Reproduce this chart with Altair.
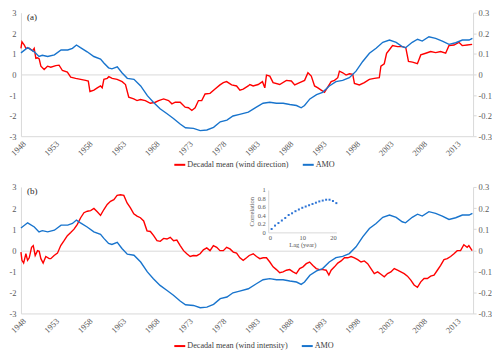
import altair as alt
import pandas as pd

RED = "#ff0000"
BLUE = "#1874cd"
FONT = "'Liberation Serif', 'Times New Roman', 'DejaVu Serif', serif"
GRID = "#d9d9d9"
LABEL = "#595959"

# AMO index (right axis units)
amo_years = [1948.0, 1949.0, 1950.0, 1950.7, 1951.2, 1952.0, 1953.0, 1954.0, 1955.0, 1955.7,
             1956.3, 1956.9, 1957.9, 1958.9, 1959.9, 1960.4, 1961.1, 1961.6, 1962.4, 1963.1,
             1963.9, 1964.9, 1965.9, 1966.9, 1967.8, 1968.8, 1969.8, 1970.8, 1971.8, 1972.6,
             1973.8, 1974.8, 1975.8, 1976.8, 1977.8, 1978.8, 1979.7, 1980.7, 1982.0, 1983.2,
             1984.2, 1985.2, 1986.2, 1987.2, 1988.2, 1989.2, 1989.9, 1990.4, 1991.2, 1992.2,
             1993.1, 1994.1, 1995.1, 1996.1, 1997.1, 1998.1, 1999.1, 2000.1, 2001.1, 2002.1,
             2003.1, 2004.1, 2005.0, 2005.5, 2006.5, 2007.3, 2008.0, 2009.0, 2010.0, 2011.0,
             2012.0, 2013.0, 2014.0, 2015.0, 2015.5]
amo_values = [0.105, 0.130, 0.110, 0.087, 0.093, 0.087, 0.095, 0.119, 0.119, 0.127,
              0.143, 0.130, 0.110, 0.087, 0.075, 0.056, 0.032, 0.027, 0.037, 0.008,
              -0.019, -0.024, -0.056, -0.103, -0.135, -0.167, -0.190, -0.214, -0.241, -0.259,
              -0.262, -0.273, -0.270, -0.257, -0.230, -0.222, -0.202, -0.194, -0.183, -0.159,
              -0.140, -0.135, -0.140, -0.140, -0.146, -0.151, -0.162, -0.151, -0.119, -0.098,
              -0.087, -0.056, -0.035, -0.029, -0.016, 0.016, 0.063, 0.103, 0.127, 0.156,
              0.167, 0.156, 0.135, 0.130, 0.156, 0.171, 0.162, 0.183, 0.175, 0.162,
              0.146, 0.154, 0.167, 0.167, 0.175]

# Decadal mean (wind direction), panel (a)
dir_years = [1948.0, 1948.15, 1948.5, 1948.74, 1949.24, 1949.74, 1949.98, 1950.23, 1950.48, 1950.73,
             1950.98, 1951.47, 1951.97, 1952.46, 1953.21, 1953.7, 1954.2, 1954.94, 1955.44, 1956.18,
             1956.93, 1957.67, 1958.07, 1958.32, 1958.91, 1959.41, 1959.9, 1960.15, 1960.4, 1960.9,
             1961.14, 1961.64, 1962.38, 1963.13, 1963.63, 1964.12, 1964.87, 1965.36, 1965.86, 1966.6,
             1967.35, 1968.09, 1968.59, 1969.33, 1970.07, 1970.57, 1971.07, 1971.81, 1972.55, 1973.05,
             1973.55, 1974.04, 1974.54, 1975.03, 1975.53, 1976.27, 1977.02, 1977.76, 1978.26, 1978.75,
             1979.5, 1980.24, 1980.74, 1981.23, 1981.98, 1982.23, 1982.72, 1983.47, 1984.11, 1984.46,
             1984.71, 1985.21, 1985.7, 1986.69, 1987.69, 1988.43, 1988.93, 1989.67, 1990.41, 1990.91,
             1991.41, 1991.9, 1992.4, 1992.89, 1993.39, 1993.89, 1994.38, 1994.88, 1995.37, 1995.62,
             1996.12, 1996.61, 1997.11, 1997.61, 1997.86, 1998.6, 1999.34, 2000.09, 2000.83, 2001.58,
             2001.82, 2002.32, 2002.67, 2003.06, 2003.56, 2004.3, 2005.05, 2005.54, 2005.94, 2006.54,
             2007.28, 2007.78, 2008.52, 2009.26, 2010.01, 2010.75, 2011.5, 2011.99, 2012.74, 2013.48,
             2013.98, 2014.72, 2015.46]
dir_values = [1.27, 1.59, 1.43, 1.27, 1.27, 1.15, 1.27, 0.78, 0.81, 0.75,
              0.40, 0.24, 0.40, 0.35, 0.43, 0.45, 0.19, 0.11, -0.13, -0.19,
              -0.24, -0.29, -0.32, -0.83, -0.76, -0.65, -0.56, -0.65, -0.24, -0.19,
              -0.11, -0.19, -0.24, -0.35, -0.49, -1.11, -1.19, -1.27, -1.22, -1.27,
              -1.40, -1.35, -1.27, -1.19, -1.27, -1.43, -1.35, -1.35, -1.59, -1.62,
              -1.75, -1.62, -1.27, -1.27, -0.95, -0.92, -0.71, -0.51, -0.40, -0.35,
              -0.51, -0.56, -0.76, -0.71, -0.56, -0.49, -0.56, -0.49, -0.35, -0.65,
              -0.03, -0.08, -0.40, -0.49, -0.29, -0.32, -0.51, -0.40, -0.29, 0.08,
              -0.08, -0.56, -0.65, -0.76, -0.87, -0.60, -0.35, -0.29, -0.16, 0.16,
              0.08, -0.03, 0.03, 0.00, -0.44, -0.51, -0.40, -0.24, -0.19, -0.16,
              0.40, 0.52, 1.03, 1.19, 1.40, 1.35, 1.35, 1.30, 0.63, 0.60,
              0.52, 0.95, 1.03, 1.11, 1.06, 1.11, 1.03, 1.40, 1.43, 1.56,
              1.40, 1.43, 1.46]

# Decadal mean (wind intensity), panel (b)
int_years = [1948.0, 1948.15, 1948.4, 1948.74, 1948.99, 1949.24, 1949.59, 1949.84, 1950.13, 1950.48,
             1950.73, 1950.98, 1951.32, 1951.72, 1952.22, 1952.46, 1952.96, 1953.46, 1953.95, 1954.45,
             1954.94, 1955.44, 1955.94, 1956.43, 1956.93, 1957.42, 1957.92, 1958.42, 1958.91, 1959.41,
             1959.9, 1960.4, 1960.9, 1961.39, 1961.89, 1962.38, 1962.88, 1963.38, 1963.87, 1964.37,
             1964.87, 1965.36, 1965.86, 1966.35, 1966.85, 1967.35, 1967.84, 1968.34, 1968.83, 1969.33,
             1969.83, 1970.32, 1970.82, 1971.31, 1971.81, 1972.31, 1972.8, 1973.3, 1973.79, 1974.29,
             1974.79, 1975.28, 1975.78, 1976.27, 1976.77, 1977.27, 1977.76, 1978.26, 1978.75, 1979.25,
             1979.75, 1980.24, 1980.74, 1981.23, 1981.73, 1982.13, 1982.73, 1983.22, 1983.72, 1984.21,
             1984.71, 1985.21, 1985.7, 1986.2, 1986.69, 1987.19, 1987.69, 1988.18, 1988.68, 1989.17,
             1989.67, 1990.17, 1990.66, 1991.16, 1991.65, 1992.15, 1992.65, 1993.14, 1993.64, 1994.04,
             1994.38, 1994.88, 1995.37, 1995.87, 1996.37, 1996.86, 1997.36, 1997.86, 1998.35, 1998.85,
             1999.34, 1999.84, 2000.33, 2000.83, 2001.33, 2001.82, 2002.32, 2002.81, 2003.31, 2003.81,
             2004.3, 2004.8, 2005.3, 2005.79, 2006.29, 2006.78, 2007.28, 2007.78, 2008.27, 2008.77,
             2009.26, 2009.76, 2010.26, 2010.75, 2011.25, 2011.74, 2012.24, 2012.74, 2013.23, 2013.73,
             2014.22, 2014.72, 2014.97, 2015.46]
int_values = [-0.09, -0.48, -0.61, -0.17, -0.48, -0.36, 0.14, 0.22, -0.25, -0.02,
              -0.05, -0.40, -0.61, -0.30, -0.40, -0.40, -0.25, -0.14, 0.22, 0.45,
              0.69, 0.84, 1.00, 1.23, 1.54, 1.78, 1.85, 1.88, 1.98, 1.82,
              1.65, 1.93, 2.17, 2.32, 2.40, 2.60, 2.63, 2.60, 2.24, 2.01,
              1.73, 1.62, 1.54, 1.39, 0.92, 0.89, 0.69, 0.45, 0.42, 0.56,
              0.53, 0.61, 0.45, 0.48, 0.22, -0.02, -0.17, -0.30, -0.25, -0.26,
              -0.17, 0.02, 0.11, -0.02, 0.22, 0.14, -0.02, -0.02, 0.14, 0.06,
              -0.09, -0.14, -0.36, -0.48, -0.36, -0.25, -0.17, -0.30, -0.40, -0.36,
              -0.36, -0.56, -0.79, -0.92, -1.07, -1.03, -0.95, -0.92, -1.03, -1.11,
              -0.87, -0.79, -0.64, -0.56, -0.72, -0.87, -0.92, -0.92, -0.95, -1.18,
              -0.95, -0.79, -0.61, -0.51, -0.36, -0.36, -0.30, -0.36, -0.45, -0.56,
              -0.51, -0.64, -0.87, -1.11, -1.03, -1.14, -1.26, -1.11, -1.03, -0.87,
              -0.95, -1.03, -1.11, -1.23, -1.42, -1.65, -1.76, -1.50, -1.34, -1.34,
              -1.23, -1.18, -0.95, -0.72, -0.45, -0.40, -0.30, -0.17, -0.02, -0.02,
              0.26, 0.14, 0.22, -0.02]

# Inset: lagged correlation
lags = list(range(1, 21))
corr = [0.08, 0.16, 0.22, 0.28, 0.34, 0.41, 0.45, 0.50, 0.54, 0.58,
        0.61, 0.64, 0.67, 0.70, 0.73, 0.75, 0.77, 0.77, 0.74, 0.69]

x_ticks = list(range(1948, 2014, 5))
left_ticks = [-3, -2, -1, 0, 1, 2, 3]
right_ticks = [-0.3, -0.2, -0.1, 0, 0.1, 0.2, 0.3]

W = 454


def panel(years, values, name, tag, h, legend_y, inset=False):
    red_df = pd.DataFrame({"year": years, "value": values, "series": name})
    amo_df = pd.DataFrame({"year": amo_years, "value": amo_values, "series": "AMO"})
    xscale = alt.Scale(domain=[1948, 2015.6], nice=False, zero=False)
    xaxis = alt.Axis(values=x_ticks, format="d", labelAngle=-45, ticks=False, grid=False,
                     title=None, domainColor=GRID, labelPadding=3, orient="bottom")
    color = alt.Color("series:N",
                      scale=alt.Scale(domain=[name, "AMO"], range=[RED, BLUE]),
                      legend=alt.Legend(orient="none", legendX=153, legendY=legend_y,
                                        direction="horizontal", title=None,
                                        symbolType="stroke", symbolSize=121,
                                        symbolStrokeWidth=2, labelFont=FONT,
                                        labelFontSize=8.2, labelColor="#404040",
                                        columnPadding=10, labelOffset=1, padding=0))
    red = alt.Chart(red_df).mark_line(strokeWidth=1.4).encode(
        x=alt.X("year:Q", scale=xscale, axis=xaxis),
        y=alt.Y("value:Q", scale=alt.Scale(domain=[-3, 3], nice=False),
                axis=alt.Axis(orient="left", values=left_ticks, format="d", ticks=False,
                              title=None, domainColor=GRID, labelPadding=5, grid=True,
                              gridColor={"condition": {"test": "datum.value === 0", "value": GRID},
                                         "value": "rgba(0,0,0,0)"},
                              labelExpr="replace(datum.label, '\u2212', '-')")),
        color=color,
    )
    blue = alt.Chart(amo_df).mark_line(strokeWidth=1.4).encode(
        x=alt.X("year:Q", scale=xscale, axis=xaxis),
        y=alt.Y("value:Q", scale=alt.Scale(domain=[-0.3, 0.3], nice=False),
                axis=alt.Axis(orient="right", values=right_ticks, tickSize=3, tickColor=GRID,
                              title=None, domainColor=GRID, labelPadding=2, grid=False,
                              labelExpr="replace(format(datum.value, '.1~f'), '\u2212', '-')")),
        color=color,
    )
    main = alt.layer(red, blue).resolve_scale(y="independent")
    tag_df = pd.DataFrame({"label": [tag]})
    tag_mark = alt.Chart(tag_df).mark_text(font=FONT, fontSize=9, color="#262626",
                                           align="left", baseline="middle").encode(
        x=alt.value(6), y=alt.value(4), text="label:N")
    layers = [main]
    if inset:
        inset_df = pd.DataFrame({"lag": lags, "corr": corr})
        pts = alt.Chart(inset_df).mark_square(size=4, color="#2e75d6", opacity=1).encode(
            x=alt.X("lag:Q", scale=alt.Scale(domain=[0, 20], range=[248.3, 316.7], nice=False, zero=False),
                    axis=alt.Axis(orient="bottom", offset=-(h - 45.6), values=[0, 10, 20],
                                  title="Lag (year)", titleFont=FONT, titleFontSize=6.5,
                                  titleFontWeight="normal", titleColor=LABEL, titlePadding=1,
                                  labelFontSize=6.5, ticks=False, domainColor=GRID,
                                  labelPadding=2, grid=False)),
            y=alt.Y("corr:Q", scale=alt.Scale(domain=[0, 1], range=[45.6, 3], nice=False),
                    axis=alt.Axis(orient="left", offset=-248.3, values=[0, 0.2, 0.4, 0.6, 0.8, 1],
                                  title="Correlation", titleFont=FONT, titleFontSize=6.5,
                                  titleFontWeight="normal", titleColor=LABEL, titlePadding=3,
                                  labelFontSize=6.5, ticks=False, domainColor=GRID,
                                  labelPadding=3, grid=False, format="~g")),
        )
        layers.append(pts)
    layers.append(tag_mark)
    return alt.layer(*layers).resolve_scale(x="independent", y="independent").properties(
        width=W, height=h)


top = panel(dir_years, dir_values, "Decadal mean (wind direction)", "(a)", 124, 146)
bottom = panel(int_years, int_values, "Decadal mean (wind intensity)", "(b)", 127, 153, inset=True)

chart = alt.vconcat(top, bottom, spacing=14).resolve_scale(color="independent").properties(
    padding=0, background="white"
).configure_view(stroke=None).configure_axis(
    labelFont=FONT, labelFontSize=8.5, labelColor=LABEL
)

chart.save("out.html", embed_options={"renderer": "svg", "actions": False})
